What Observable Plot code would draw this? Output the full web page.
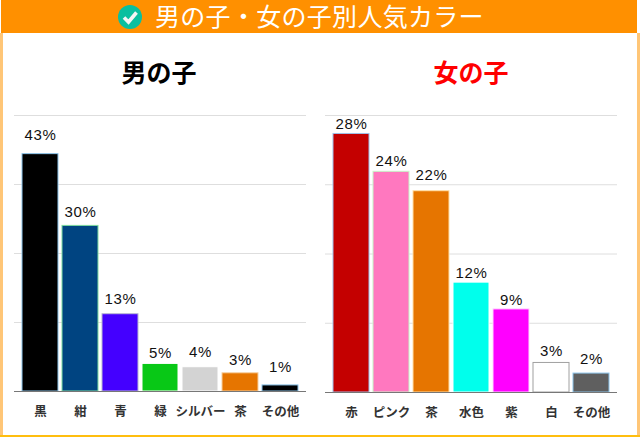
<!DOCTYPE html>
<html lang="ja">
<head>
<meta charset="utf-8">
<script src="https://cdn.jsdelivr.net/npm/d3@7"></script>
<script src="https://cdn.jsdelivr.net/npm/@observablehq/plot@0.6"></script>
<style>
html,body{margin:0;padding:0;background:#fff;}
#page{position:relative;width:640px;height:437px;overflow:hidden;background:#fff;font-family:"Noto Sans CJK JP",sans-serif;}
.edge{position:absolute;}
#head{position:absolute;left:1px;top:0;width:636px;height:33px;background:#ff9000;color:#fff;font-size:25px;line-height:30px;letter-spacing:.3px;}
#head span{position:absolute;left:154px;top:0;white-space:nowrap;font-weight:400;}
#head svg{position:absolute;left:117px;top:5px;}
.ttl{position:absolute;top:53px;width:160px;text-align:center;font-size:25px;line-height:36px;font-weight:700;}
</style>
</head>
<body>
<div id="page">
  <div class="edge" style="left:0;top:33px;width:3px;height:404px;background:#ffc677"></div>
  <div class="edge" style="left:637px;top:33px;width:3px;height:404px;background:#ffc677"></div>
  <div class="edge" style="left:0;top:435px;width:640px;height:2px;background:#ffbe0f"></div>
  <div id="head">
    <svg width="24" height="24" viewBox="0 0 24 24"><circle cx="12" cy="12" r="12" fill="#0abf9f"/><path d="M6 12.5l4.5 4.5L18.5 7.5" fill="none" stroke="#f4f4f4" stroke-width="3.6"/></svg>
    <span>男の子・女の子別人気カラー</span>
  </div>
  <div class="ttl" style="left:79px;color:#000">男の子</div>
  <div class="ttl" style="left:391px;color:#f00">女の子</div>
</div>
<script>
const boysCategories = ["黒","紺","青","緑","シルバー","茶","その他"];
const boysValues = [43,30,14,5,4.4,3.3,1.1];
const boysLabels = ["43%","30%","13%","5%","4%","3%","1%"];
const boysFill = ["#000000","#004481","#4400ff","#08c816","#d3d3d3","#e67500","#000000"];
const boysStroke = ["#8cc4ea","#7fdc9f","#b8b8d0","#ffffff","#ffffff","#f5cfa0","#8cc4ea"];
const boysLift = [3.4,2.4,2.7,2,2.8,2.4,3.3];

const girlsCategories = ["赤","ピンク","茶","水色","紫","白","その他"];
const girlsValues = [28,23.9,21.8,11.9,9,3.2,2.05];
const girlsLabels = ["28%","24%","22%","12%","9%","3%","2%"];
const girlsFill = ["#c40000","#ff78bf","#e67500","#00ffec","#ff00ff","#ffffff","#5f5f5f"];
const girlsStroke = ["#9fbfe8","#c8f5c8","#ffe0a8","#ffffff","#ffd8ff","#a0a0a0","#8cc4ea"];
const girlsLift = [1.1,1.2,1.7,1,1,1.3,1.6];

function chart(categories, values, labels, fills, strokes, lift, top, ticks, left, baseline){
  const rows = categories.map((category,i)=>({category,value:values[i],label:labels[i],fill:fills[i],stroke:strokes[i],lift:lift[i]}));
  const svg = Plot.plot({
    width:320, height:437,
    marginLeft:14, marginRight:14, marginTop:115, marginBottom:437-baseline,
    style:{background:"transparent",overflow:"visible"},
    x:{domain:categories,range:[20,300],paddingInner:0.1,paddingOuter:0.05,round:false,label:null},
    y:{domain:[0,top],range:[baseline,115],axis:null},
    marks:[
      Plot.ruleY(ticks,{stroke:"#dedede",strokeWidth:1,strokeOpacity:1}),
      Plot.barY(rows,{x:"category",y:"value",fill:"fill",stroke:"stroke",strokeWidth:1}),
      Plot.ruleY([0],{stroke:"#777",strokeWidth:1.2}),
      Plot.text(rows,{x:"category",y:d=>d.value+d.lift,text:"label",fill:"#111",stroke:"#fff",strokeWidth:3,fontSize:15,fontFamily:"Liberation Sans, Arial, sans-serif",textAnchor:"middle"}),
      Plot.axisX({anchor:"bottom",tickSize:0,tickPadding:16,label:null,fontSize:12.5,fontWeight:700,fontFamily:'"Noto Sans CJK JP",sans-serif',fill:"#333"})
    ]
  });
  svg.style.position = "absolute";
  svg.style.top = "0";
  svg.style.left = left+"px";
  svg.style.maxWidth = "none";
  svg.querySelectorAll('g[font-size="15"], text[font-size="15"]').forEach(t=>t.style.letterSpacing="0.6px");
  document.getElementById("page").appendChild(svg);
}
chart(boysCategories,boysValues,boysLabels,boysFill,boysStroke,boysLift,50,[12.5,25,37.5,50],0,391);
chart(girlsCategories,girlsValues,girlsLabels,girlsFill,girlsStroke,girlsLift,30,[7.5,15,22.5,30],311,392);
</script>
</body>
</html>
